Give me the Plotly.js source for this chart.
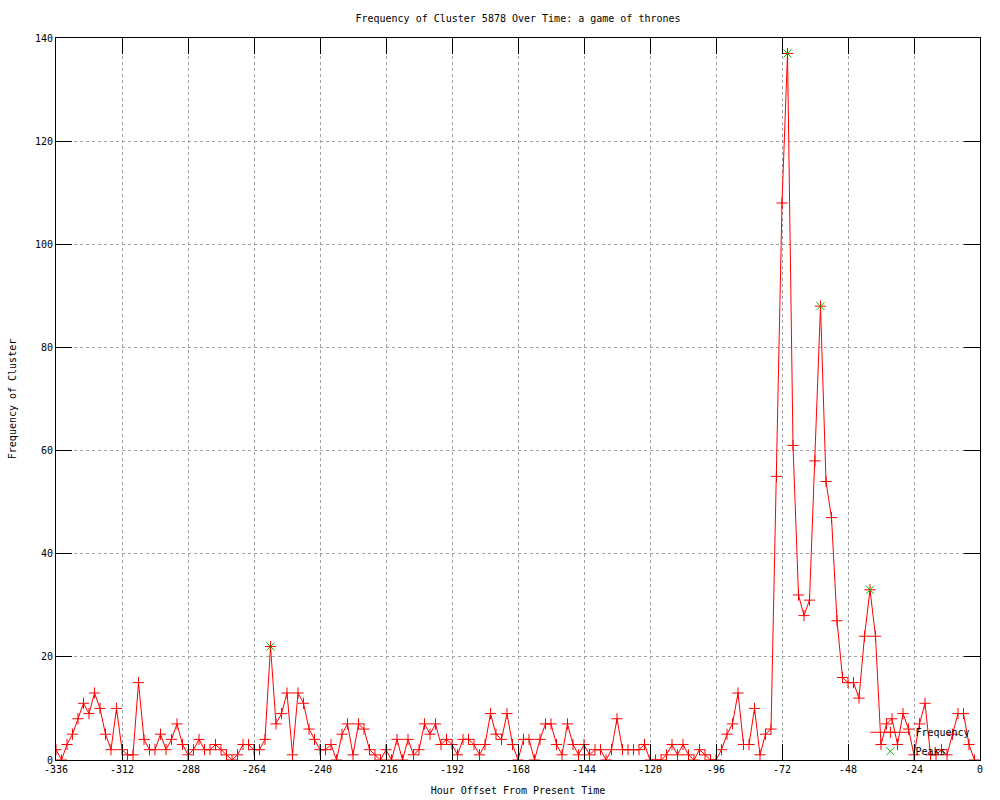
<!DOCTYPE html>
<html>
<head>
<meta charset="utf-8">
<script src="https://cdn.plot.ly/plotly-3.0.1.min.js"></script>
<style>html,body{margin:0;padding:0;background:#fff;}#chart{width:1000px;height:800px;}</style>
</head>
<body>
<div id="chart"></div>
<script>
const hours = [-336,-334,-332,-330,-328,-326,-324,-322,-320,-318,-316,-314,-312,-310,-308,-306,-304,-302,-300,-298,-296,-294,-292,-290,-288,-286,-284,-282,
-280,-278,-276,-274,-272,-270,-268,-266,-264,-262,-260,-258,-256,-254,-252,-250,-248,-246,-244,-242,-240,-238,-236,-234,-232,-230,-228,-226,
-224,-222,-220,-218,-216,-214,-212,-210,-208,-206,-204,-202,-200,-198,-196,-194,-192,-190,-188,-186,-184,-182,-180,-178,-176,-174,-172,-170,
-168,-166,-164,-162,-160,-158,-156,-154,-152,-150,-148,-146,-144,-142,-140,-138,-136,-134,-132,-130,-128,-126,-124,-122,-120,-118,-116,-114,
-112,-110,-108,-106,-104,-102,-100,-98,-96,-94,-92,-90,-88,-86,-84,-82,-80,-78,-76,-74,-72,-70,-68,-66,-64,-62,-60,-58,
-56,-54,-52,-50,-48,-46,-44,-42,-40,-38,-36,-34,-32,-30,-28,-26,-24,-22,-20,-18,-16,-14,-12,-10,-8,-6,-4,-2];

const frequency = [2,0,3,5,8,11,9,13,10,5,2,10,2,1,1,15,4,2,2,5,2,4,7,3,1,2,4,2,
2,3,2,1,0,1,3,3,2,2,4,22,7,9,13,1,13,11,6,4,2,2,3,0,5,7,1,7,
6,2,1,0,2,0,4,0,4,1,2,7,5,7,3,4,3,1,4,4,3,1,3,9,5,4,9,3,
0,4,4,0,4,7,7,3,1,7,3,1,3,1,2,2,0,2,8,2,2,2,2,3,0,0,0,1,
3,1,3,1,0,2,1,0,0,2,5,7,13,3,3,10,1,5,6,55,108,137,61,32,28,31,58,88,
54,47,27,16,15,15,12,24,33,24,3,7,8,3,9,6,1,7,11,1,1,2,1,5,9,9,3,0];

const peakHours = [-258,-70,-58,-40];
const peakValues = [22,137,88,33];

const xTicks = [-336,-312,-288,-264,-240,-216,-192,-168,-144,-120,-96,-72,-48,-24,0];
const yTicks = [0,20,40,60,80,100,120,140];

const FONT = "DejaVu Sans Mono, Liberation Mono, monospace";

const traces = [
  {
    x: hours, y: frequency, name: "Frequency", type: "scatter", mode: "lines+markers",
    line: {color: "#ff0000", width: 1},
    marker: {symbol: "cross-thin-open", size: 8, line: {color: "#ff0000", width: 1}, color: "#ff0000"}
  },
  {
    x: peakHours, y: peakValues, name: "Peaks", type: "scatter", mode: "markers",
    marker: {symbol: "x-thin-open", size: 8, line: {color: "#00c000", width: 1}, color: "#00c000"}
  }
];

const axisCommon = {
  showline: true, linecolor: "#000", linewidth: 1, mirror: "ticks",
  ticks: "inside", ticklen: 16, tickcolor: "#000", tickwidth: 1,
  showgrid: true, gridcolor: "#a0a0a0", griddash: "dot", gridwidth: 1,
  zeroline: false, tickfont: {family: FONT, size: 10, color: "#000"}
};

const layout = {
  width: 1000, height: 800,
  paper_bgcolor: "#fff", plot_bgcolor: "#fff",
  margin: {l: 56, r: 20, t: 38, b: 40},
  font: {family: FONT, size: 10, color: "#000"},
  title: {text: "Frequency of Cluster 5878 Over Time: a game of thrones",
          font: {family: FONT, size: 10, color: "#000"},
          x: 0.518, xref: "container", xanchor: "center", y: 0.977, yref: "container", yanchor: "middle"},
  xaxis: Object.assign({}, axisCommon, {
    range: [-336, 0], tickmode: "array", tickvals: xTicks, ticktext: xTicks.map(String),
    title: {text: "Hour Offset From Present Time", font: {family: FONT, size: 10, color: "#000"}, standoff: 12}
  }),
  yaxis: Object.assign({}, axisCommon, {
    range: [0, 140], tickmode: "array", tickvals: yTicks, ticktext: yTicks.map(String),
    title: {text: "Frequency of Cluster", font: {family: FONT, size: 10, color: "#000"}, standoff: 16}
  }),
  showlegend: true,
  legend: {x: 0.995, xanchor: "right", y: -0.008, yanchor: "bottom", bgcolor: "rgba(0,0,0,0)",
           font: {family: FONT, size: 10, color: "#000"}, tracegroupgap: 0, itemwidth: 40}
};

Plotly.newPlot("chart", traces, layout, {displayModeBar: false, staticPlot: true});
</script>
</body>
</html>
